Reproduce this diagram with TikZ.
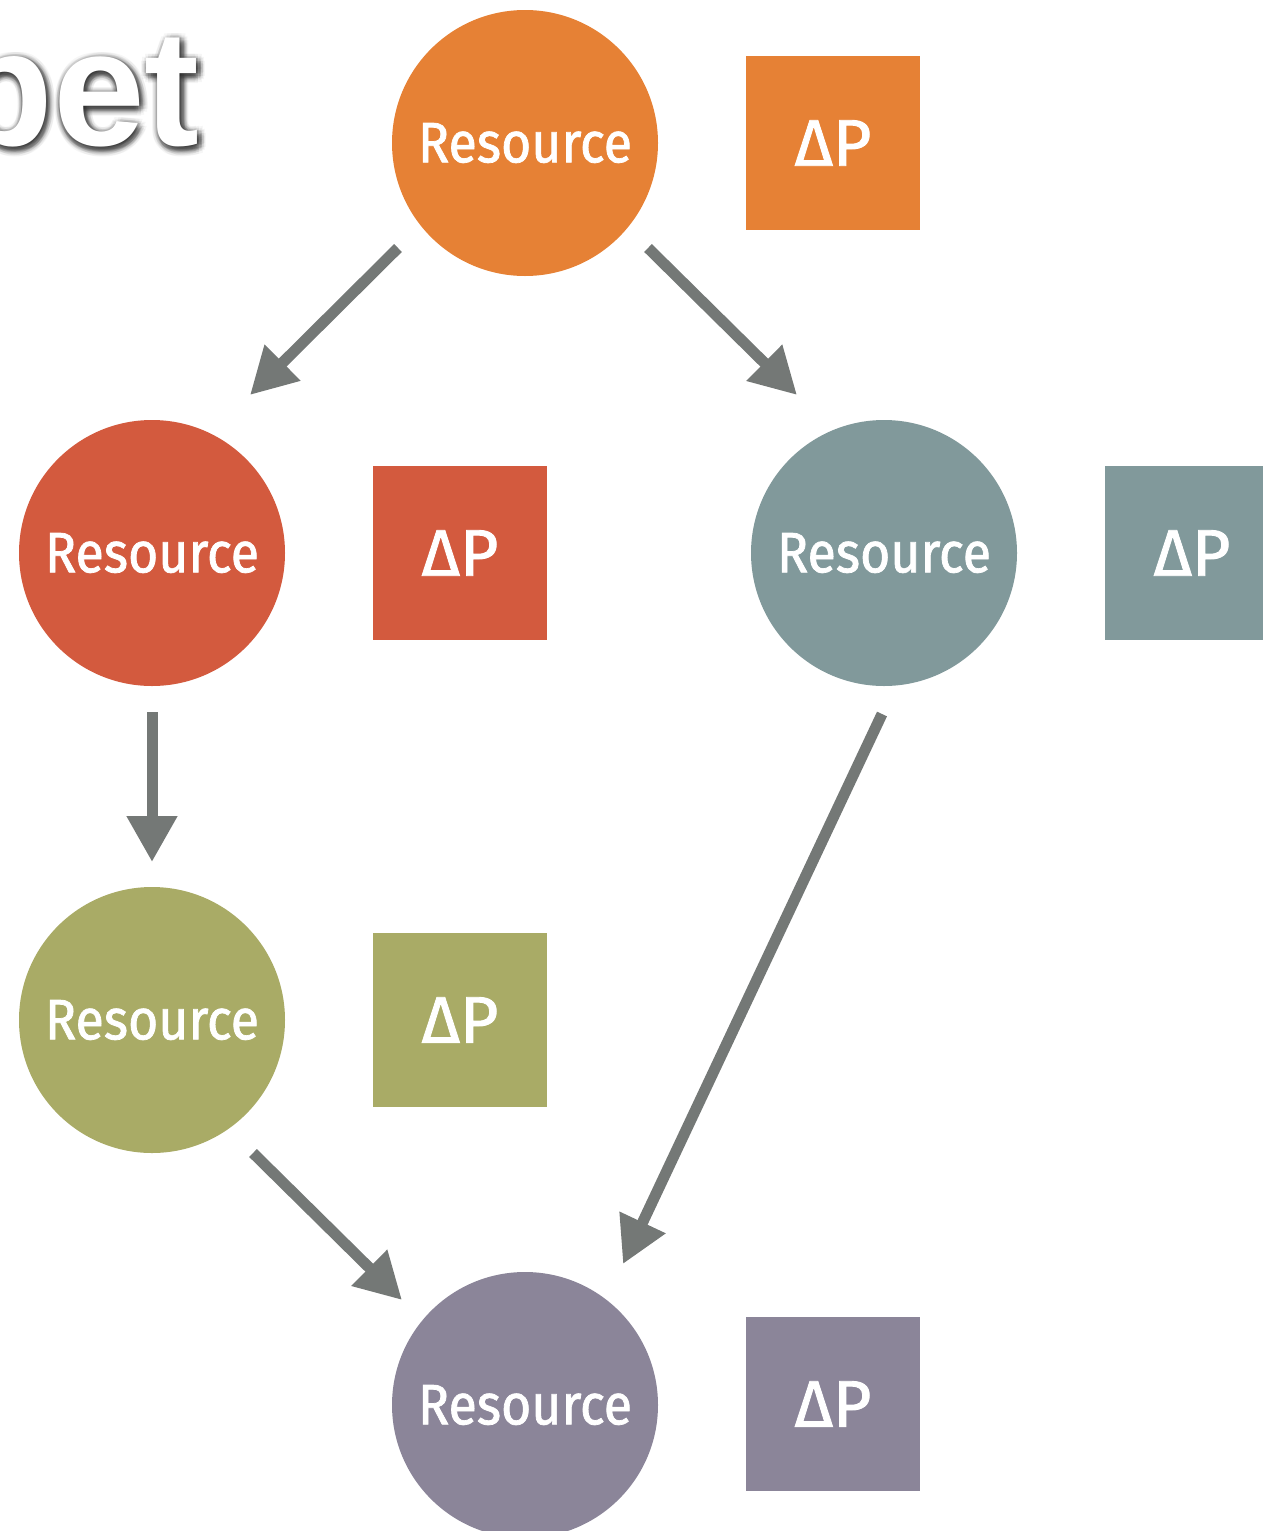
\documentclass[tikz,border=0pt]{standalone}
\usepackage{fontspec}
\setmainfont{Fira Sans}
\newfontfamily\resfont{Fira Sans}[FakeBold=1.3,FakeStretch=0.91]
\newfontfamily\dpfont{Fira Sans}[FakeBold=1.3]
\newfontfamily\ttlfont{Liberation Sans}
\usetikzlibrary{arrows.meta,calc}
\definecolor{cOrange}{HTML}{E68135}
\definecolor{cRed}{HTML}{D35A3E}
\definecolor{cTeal}{HTML}{81999B}
\definecolor{cOlive}{HTML}{A9AB66}
\definecolor{cPurple}{HTML}{8B8599}
\definecolor{cArrow}{HTML}{747876}
\begin{document}
\begin{tikzpicture}[x=1pt,y=-1pt,
  res/.style={circle, fill=#1, minimum size=266pt, inner sep=0pt, text=white,
    font=\resfont\fontsize{57}{60}\selectfont},
  dp/.style={rectangle, fill=#1, minimum size=174pt, inner sep=0pt, text=white,
    font=\dpfont\fontsize{66}{70}\selectfont},
  ttl/.style={anchor=base east, inner sep=0pt,
    font=\ttlfont\bfseries\fontsize{165}{170}\selectfont},
  flow/.style={draw=cArrow, line width=11pt, -{Triangle[length=46pt,width=48pt]}}
]
\useasboundingbox (0,0) rectangle (1263,1531);
\clip (0,0) rectangle (1263,1531);
% title fragment with soft shadow
\foreach \r/\op in {7/0.035,5/0.05,3/0.07}{
  \foreach \a in {0,30,...,330}{
    \node[ttl, text=black, opacity=\op] at ($(202,148)+(\a:\r)$) {pet};
  }
}
\node[ttl, text=white] (title) at (200,145) {pet};

\node[res=cOrange] (r1) at (525,143) {Resource};
\node[res=cRed]    (r2) at (152,553) {Resource};
\node[res=cTeal]   (r3) at (884,553) {Resource};
\node[res=cOlive]  (r4) at (152,1020) {Resource};
\node[res=cPurple] (r5) at (525,1405) {Resource};

\node[dp=cOrange] (d1) at (833,143) {ΔP};
\node[dp=cRed]    (d2) at (460,553) {ΔP};
\node[dp=cTeal]   (d3) at (1192,553) {ΔP};
\node[dp=cOlive]  (d4) at (460,1020) {ΔP};
\node[dp=cPurple] (d5) at (833,1404) {ΔP};

\coordinate (a1s) at (398,248); \coordinate (a1e) at (250,395);
\coordinate (a2s) at (648,248); \coordinate (a2e) at (797,395);
\coordinate (a3s) at (152,712); \coordinate (a3e) at (152,862);
\coordinate (a4s) at (882,714); \coordinate (a4e) at (623,1264);
\coordinate (a5s) at (253,1153); \coordinate (a5e) at (402,1300);
\draw[flow] (a1s) -- (a1e);
\draw[flow] (a2s) -- (a2e);
\draw[flow] (a3s) -- (a3e);
\draw[flow] (a4s) -- (a4e);
\draw[flow] (a5s) -- (a5e);
\end{tikzpicture}
\end{document}
